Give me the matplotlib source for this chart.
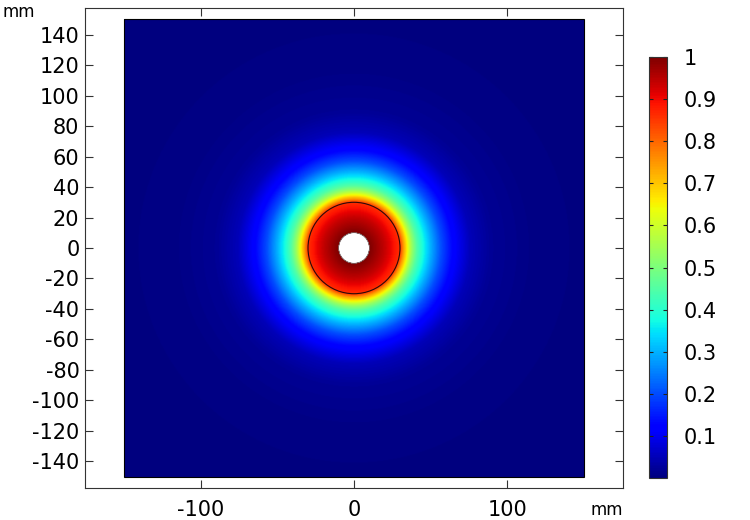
import matplotlib
matplotlib.use("Agg")
import matplotlib.pyplot as plt
import numpy as np

plt.rcParams["font.family"] = ["DejaVu Sans"]
plt.rcParams["axes.unicode_minus"] = False

# radial profile of the field (radius in mm -> value)
profile_r = [10, 15, 20, 25, 30, 32, 34, 36, 38, 41, 45, 50, 57, 65, 76, 90, 120, 215]
profile_v = [1.0, 0.97, 0.94, 0.9, 0.86, 0.76, 0.68, 0.6, 0.53, 0.45, 0.38, 0.3, 0.2, 0.12, 0.05, 0.02, 0.005, 0.0]

hole_radius = 10
ring_radius = 30
domain_half = 150

x_ticks = [-100, 0, 100]
y_ticks = [-140, -120, -100, -80, -60, -40, -20, 0, 20, 40, 60, 80, 100, 120, 140]
cbar_ticks = [0.1, 0.2, 0.3, 0.4, 0.5, 0.6, 0.7, 0.8, 0.9, 1]
cbar_labels = ["0.1", "0.2", "0.3", "0.4", "0.5", "0.6", "0.7", "0.8", "0.9", "1"]


def main() -> None:
    n = 600
    coords = np.linspace(-domain_half, domain_half, n)
    xx, yy = np.meshgrid(coords, coords)
    rr = np.hypot(xx, yy)
    field = np.interp(rr, profile_r, profile_v)
    field = np.ma.masked_where(rr < hole_radius, field)

    fig = plt.figure(figsize=(7.5, 5.2), dpi=100)
    ax = fig.add_axes([85 / 750, 32 / 520, 538 / 750, 480 / 520])

    cmap = plt.get_cmap("jet").copy()
    cmap.set_bad("white")
    im = ax.imshow(
        field,
        cmap=cmap,
        vmin=0,
        vmax=1,
        origin="lower",
        extent=[-domain_half, domain_half, -domain_half, domain_half],
        interpolation="bilinear",
        aspect="auto",
    )

    # geometry outlines
    ax.add_patch(plt.Rectangle((-domain_half, -domain_half), 2 * domain_half, 2 * domain_half,
                               fill=False, ec="black", lw=0.8))
    ax.add_patch(plt.Circle((0, 0), ring_radius, fill=False, ec="#2a0a0a", lw=0.8))
    ax.add_patch(plt.Circle((0, 0), hole_radius, fill=False, ec="#555555", lw=0.4))

    ax.set_xlim(-175.5, 175.5)
    ax.set_ylim(-157.5, 157.5)
    ax.set_xticks(x_ticks)
    ax.set_yticks(y_ticks)
    ax.tick_params(axis="both", direction="in", length=6, width=0.8, color="#333333",
                   top=True, right=True, labelsize=15)
    ax.tick_params(axis="x", pad=9)
    ax.tick_params(axis="y", pad=4)
    for spine in ax.spines.values():
        spine.set_color("#333333")
        spine.set_linewidth(0.8)

    fig.text(3 / 750, 1 - 17 / 520, "mm", fontsize=12, ha="left", va="baseline")
    fig.text(623 / 750, 5 / 520, "mm", fontsize=12, ha="right", va="baseline")

    cax = fig.add_axes([649 / 750, 42 / 520, 18 / 750, 421 / 520])
    cbar = fig.colorbar(im, cax=cax, ticks=cbar_ticks)
    cbar.ax.set_yticklabels(cbar_labels)
    cbar.ax.tick_params(direction="in", length=3, width=0.8, left=True, right=True,
                        labelsize=15, pad=12, color="#222222")
    cbar.outline.set_edgecolor("#333333")
    cbar.outline.set_linewidth(0.8)

    fig.savefig("out.png", dpi=100)
    plt.close(fig)


if __name__ == "__main__":
    main()
